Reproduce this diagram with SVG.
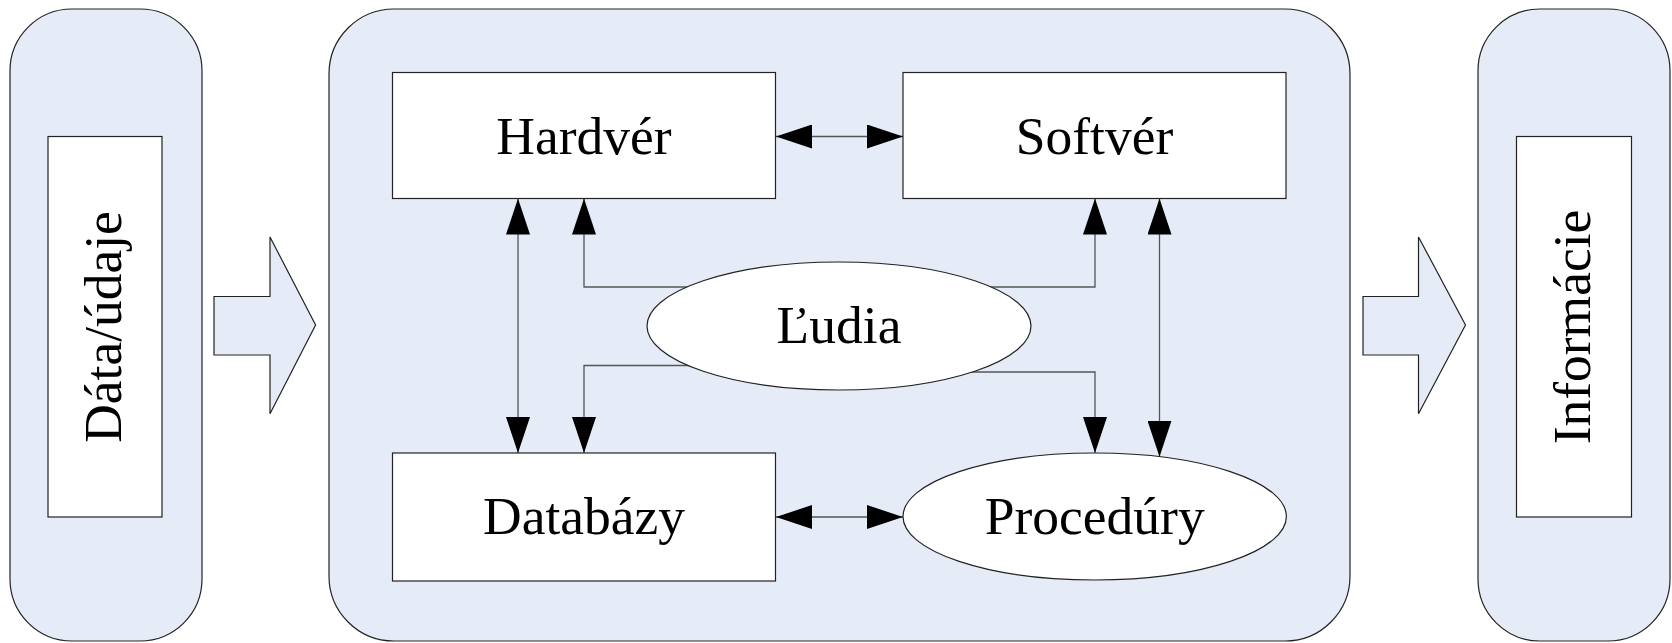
<svg xmlns="http://www.w3.org/2000/svg" width="1672" height="643" viewBox="0 0 1672 643">
<style>
.pill{fill:#E6ECF7;stroke:#222;stroke-width:1.2}
.box{fill:#fff;stroke:#222;stroke-width:1.2}
.conn{fill:none;stroke:#555;stroke-width:1.3}
.t{font-family:"Liberation Serif","Times New Roman",serif;font-size:53.5px;fill:#000;text-anchor:middle}
</style>
<defs>
<marker id="ah" markerUnits="userSpaceOnUse" markerWidth="36" markerHeight="24" refX="36" refY="12" orient="auto-start-reverse" viewBox="0 0 36 24">
<path d="M0,0 L36,12 L0,24 z" fill="#000"/>
</marker>
</defs>
<rect width="1672" height="643" fill="#fff"/>
<g id="input">
<rect class="pill" x="10" y="9" width="192" height="632" rx="62" ry="62"/>
<rect class="box" x="48" y="136.5" width="114" height="380.5"/>
<text class="t" transform="translate(121,327) rotate(-90)" x="0" y="0">Dáta/údaje</text>
</g>
<g id="arrow-in">
<path class="pill" d="M214,296.5 H270 V237 L315.6,325 L270,413.7 V355 H214 z"/>
</g>
<g id="system">
<rect class="pill" x="329" y="9" width="1021" height="632" rx="65" ry="65"/>
</g>
<g id="arrow-out">
<path class="pill" d="M1363,296.5 H1418.5 V237 L1465.5,325 L1418.5,413.7 V355 H1363 z"/>
</g>
<g id="output">
<rect class="pill" x="1478" y="9" width="192" height="632" rx="62" ry="62"/>
<rect class="box" x="1516.5" y="136.5" width="115" height="380.5"/>
<text class="t" transform="translate(1590,327) rotate(-90)" x="0" y="0">Informácie</text>
</g>
<g id="connectors">
<path class="conn" d="M776,136.5 H903" marker-start="url(#ah)" marker-end="url(#ah)"/>
<path class="conn" d="M776,517 H903" marker-start="url(#ah)" marker-end="url(#ah)"/>
<path class="conn" d="M518,198.5 V453" marker-start="url(#ah)" marker-end="url(#ah)"/>
<path class="conn" d="M1159.5,198.5 V456.8" marker-start="url(#ah)" marker-end="url(#ah)"/>
<path class="conn" d="M700,287 H584 V198.5" marker-end="url(#ah)"/>
<path class="conn" d="M975,287 H1095 V198.5" marker-end="url(#ah)"/>
<path class="conn" d="M700,365.5 H584 V453" marker-end="url(#ah)"/>
<path class="conn" d="M960,372 H1095 V453" marker-end="url(#ah)"/>
</g>
<g id="hardver">
<rect class="box" x="392.5" y="72.5" width="383" height="126"/>
<text class="t" x="584" y="154">Hardvér</text>
</g>
<g id="softver">
<rect class="box" x="903" y="72.5" width="383" height="126"/>
<text class="t" x="1094.5" y="154">Softvér</text>
</g>
<g id="ludia">
<ellipse class="box" cx="839" cy="326" rx="192" ry="64"/>
<text class="t" x="839" y="343">Ľudia</text>
</g>
<g id="databazy">
<rect class="box" x="392.5" y="453" width="383" height="128"/>
<text class="t" x="584" y="534">Databázy</text>
</g>
<g id="procedury">
<ellipse class="box" cx="1094.7" cy="516.5" rx="191.7" ry="63.5"/>
<text class="t" x="1094.7" y="534">Procedúry</text>
</g>
</svg>
